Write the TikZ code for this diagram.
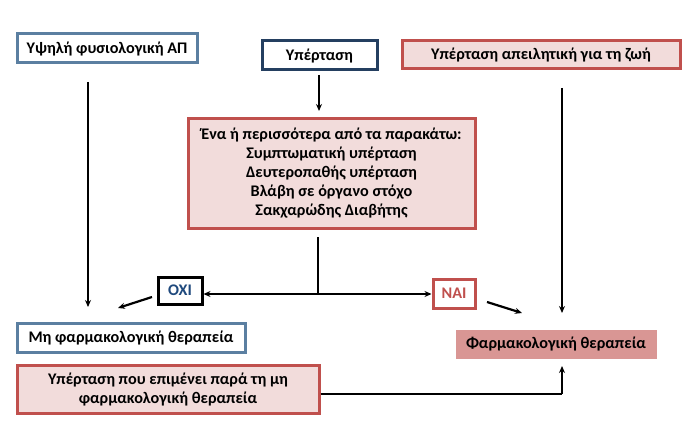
\documentclass[tikz,border=0pt]{standalone}
\usepackage{fontspec}
\setmainfont{Carlito}
\usetikzlibrary{arrows.meta}
\definecolor{bblue}{HTML}{5B7FA1}
\definecolor{navy}{HTML}{243F60}
\definecolor{rred}{HTML}{C0504D}
\definecolor{pinkf}{HTML}{F2DCDB}
\definecolor{pinkd}{HTML}{D99694}
\definecolor{dblue}{HTML}{1F497D}
\tikzset{
  box/.style={rectangle, inner sep=0pt, line width=3pt, align=center,
    font=\fontsize{16.2}{19}\selectfont\bfseries},
  bluebox/.style={box, draw=bblue, fill=white},
  navybox/.style={box, draw=navy, fill=white},
  redbox/.style={box, draw=rred, fill=pinkf},
  conn/.style={line width=2.2pt, -{Stealth[length=7pt,width=6pt]}},
  plain/.style={line width=2.2pt},
}
\begin{document}
\begin{tikzpicture}[x=1pt,y=-1pt]
\useasboundingbox (0,0) rectangle (693,425);
\node[bluebox, minimum width=180pt, minimum height=29pt] (hn) at (107,48.5) {Υψηλή φυσιολογική ΑΠ};
\node[navybox, minimum width=115pt, minimum height=29pt] (hyp) at (319.5,55.5) {Υπέρταση};
\node[redbox, minimum width=278pt, minimum height=28pt] (life) at (541,55) {Υπέρταση απειλητική για τη ζωή};
\node[redbox, minimum width=287pt, minimum height=109pt] (mid) at (331.5,173.5)
  {Ένα ή περισσότερα από τα παρακάτω:\\Συμπτωματική υπέρταση\\Δευτεροπαθής υπέρταση\\Βλάβη σε όργανο στόχο\\Σακχαρώδης Διαβήτης};
\node[box, draw=black, fill=white, text=dblue, minimum width=44pt, minimum height=27pt] (oxi) at (180,290.5) {ΟΧΙ};
\node[box, draw=rred, fill=white, text=rred, minimum width=42pt, minimum height=29pt] (nai) at (454,293.5) {ΝΑΙ};
\node[bluebox, minimum width=228pt, minimum height=29pt] (nonph) at (131,337.5) {Μη φαρμακολογική θεραπεία};
\node[redbox, minimum width=302pt, minimum height=48pt] (pers) at (168,389) {Υπέρταση που επιμένει παρά τη μη\\φαρμακολογική θεραπεία};
\node[box, draw=pinkd, line width=0.5pt, fill=pinkd, minimum width=200pt, minimum height=28pt] (ph) at (556,344) {Φαρμακολογική θεραπεία};

\coordinate (l1) at (88,82);
\coordinate (l2) at (88,307);
\coordinate (r1) at (562,88);
\coordinate (r2) at (562,313);
\coordinate (h1) at (319,75);
\coordinate (h2) at (319,111);
\coordinate (c1) at (318,237);
\coordinate (c2) at (318,294);
\coordinate (o1) at (152,297);
\coordinate (o2) at (118,308);
\coordinate (n1) at (487,302);
\coordinate (n2) at (522,313);
\coordinate (b1) at (562,394);
\coordinate (b2) at (562,366);

\draw[conn] (l1) -- (l2);
\draw[conn] (r1) -- (r2);
\draw[conn] (h1) -- (h2);
\draw[plain] (c1) -- (c2);
\draw[conn] (c2) -- (c2 -| oxi.east);
\draw[conn] (c2) -- (c2 -| nai.west);
\draw[conn] (o1) -- (o2);
\draw[conn] (n1) -- (n2);
\draw[plain] (pers.east |- b1) -- (b1);
\draw[conn] (b1) -- (b2);
\end{tikzpicture}
\end{document}
